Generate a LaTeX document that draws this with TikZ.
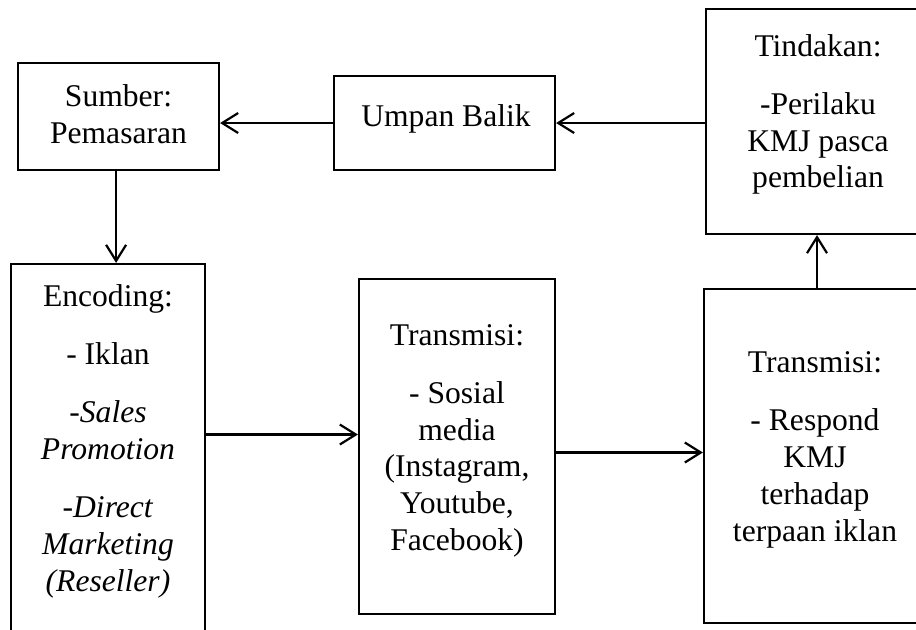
\documentclass[tikz,border=0pt]{standalone}
\usepackage{fontspec}
\setmainfont{Liberation Serif}
\usetikzlibrary{arrows.meta}
\begin{document}
\begin{tikzpicture}[x=0.5pt,y=-0.5pt,
  box/.style={draw,line width=1.1pt,inner sep=0pt,rectangle},
  txt/.style={anchor=north,align=center,inner sep=0pt,font=\fontsize{15.8}{18.4}\selectfont},
  arr/.style={line width=1.1pt,-{Straight Barb[length=8pt,width=10pt,line width=1.1pt]}}]
\useasboundingbox (0,0) rectangle (916,629);
\clip (0,0) rectangle (916,629);
% boxes (centres and sizes in px)
\node[box,minimum width=100.5pt,minimum height=53.5pt] (sumber) at (118.5,116.5) {};
\node[box,minimum width=110.5pt,minimum height=47pt] (umpan) at (444.5,123) {};
\node[box,minimum width=130pt,minimum height=112.5pt] (tind) at (836,121.5) {};
\node[box,minimum width=97pt,minimum height=198pt] (enc) at (108,462) {};
\node[box,minimum width=98pt,minimum height=167.5pt] (tone) at (457,446.5) {};
\node[box,minimum width=130pt,minimum height=167pt] (ttwo) at (834,456) {};
% texts
\node[txt] (tsumber) at (118.5,84) {Sumber:\\Pemasaran};
\node[txt] (tumpan) at (446,104) {Umpan Balik};
\node[txt] (ttind) at (818,34) {Tindakan:\\[10.6pt]-Perilaku\\KMJ pasca\\pembelian};
\node[txt] (tenc) at (108,284.5) {Encoding:\\[10.6pt]- Iklan\\[10.6pt]\textit{-Sales}\\\textit{Promotion}\\[10.6pt]\textit{-Direct}\\\textit{Marketing}\\\textit{(Reseller)}};
\node[txt] (ttone) at (457,324) {Transmisi:\\[10.6pt]- Sosial\\media\\(Instagram,\\Youtube,\\Facebook)};
\node[txt] (tttwo) at (815,351.5) {Transmisi:\\[10.6pt]- Respond\\KMJ\\terhadap\\terpaan iklan};
% connectors
\draw[arr] (tind.west |- umpan.east) -- (umpan.east);
\draw[arr] (umpan.west) -- (umpan.west -| sumber.east);
\draw[arr] ([xshift=-1.2pt]sumber.south) -- ([xshift=-1.2pt]sumber.south |- enc.north);
\draw[arr] ([yshift=6pt]enc.east |- tone.west) -- ([yshift=6pt]tone.west);
\draw[arr] ([yshift=-3pt]tone.east) -- ([yshift=-3pt]tone.east -| ttwo.west);
\draw[arr] ([xshift=-8.5pt]ttwo.north) -- ([xshift=-8.5pt]ttwo.north |- tind.south);
\end{tikzpicture}
\end{document}
